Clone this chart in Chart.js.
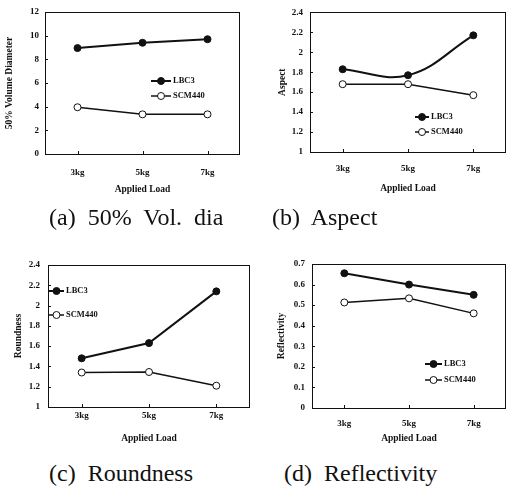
<!DOCTYPE html>
<html>
<head>
<meta charset="utf-8">
<script src="https://cdn.jsdelivr.net/npm/chart.js@4/dist/chart.umd.min.js"></script>
<style>
  html, body { margin: 0; padding: 0; background: #fff; }
  #page { position: relative; width: 511px; height: 486px; overflow: hidden; background: #fff; }
  canvas { position: absolute; }
  .cap { position: absolute; font-family: "Liberation Serif", "Times New Roman", serif; font-size: 24px; color: #111; white-space: pre; line-height: 28px; }
</style>
</head>
<body>
<div id="page">
  <canvas id="chartA" width="255" height="205" style="left:0px;top:0px;width:255px;height:205px"></canvas>
  <canvas id="chartB" width="256" height="205" style="left:255px;top:0px;width:256px;height:205px"></canvas>
  <canvas id="chartC" width="255" height="210" style="left:0px;top:240px;width:255px;height:210px"></canvas>
  <canvas id="chartD" width="256" height="210" style="left:255px;top:240px;width:256px;height:210px"></canvas>
  <div class="cap" style="left:49px;top:203px">(a)  50%  Vol.  dia</div>
  <div class="cap" style="left:272px;top:203px">(b)  Aspect</div>
  <div class="cap" style="left:49px;top:459px">(c)  Roundness</div>
  <div class="cap" style="left:284px;top:459px">(d)  Reflectivity</div>
</div>
<script>
// categories (applied load)
const loads = ["3kg", "5kg", "7kg"];
const seriesNames = ["LBC3", "SCM440"];

// (a) 50% volume diameter
const diaLBC3 = [8.95, 9.4, 9.7];
const diaSCM440 = [3.95, 3.35, 3.35];

// (b) aspect
const aspectLBC3 = [1.83, 1.77, 2.17];
const aspectSCM440 = [1.68, 1.68, 1.57];

// (c) roundness
const roundLBC3 = [1.48, 1.63, 2.14];
const roundSCM440 = [1.34, 1.345, 1.21];

// (d) reflectivity
const reflLBC3 = [0.655, 0.60, 0.55];
const reflSCM440 = [0.513, 0.533, 0.46];

const serif = '"Liberation Serif", "Times New Roman", serif';

// box around the plot area with small inward ticks
const framePlugin = {
    id: "frame",
    beforeDatasetsDraw(chart) {
        const {ctx, chartArea: a, scales} = chart;
        ctx.save();
        ctx.strokeStyle = "#111";
        ctx.lineWidth = 1;
        ctx.strokeRect(Math.round(a.left) + 0.5, Math.round(a.top) + 0.5,
            Math.round(a.right - a.left) - 1, Math.round(a.bottom - a.top));
        ctx.beginPath();
        scales.y.ticks.forEach(t => {
            const y = Math.round(scales.y.getPixelForValue(t.value)) + 0.5;
            ctx.moveTo(a.left, y);
            ctx.lineTo(a.left + 3, y);
        });
        loads.forEach((l, i) => {
            const x = Math.round(scales.x.getPixelForValue(i)) + 0.5;
            ctx.moveTo(x, a.bottom);
            ctx.lineTo(x, a.bottom - 3);
        });
        ctx.stroke();
        ctx.restore();
    }
};

// legend drawn inside the plot area
const innerLegend = {
    id: "innerLegend",
    afterDatasetsDraw(chart, args, opts) {
        const ctx = chart.ctx;
        ctx.save();
        ctx.font = "bold 8.5px " + serif;
        ctx.textBaseline = "middle";
        chart.data.datasets.forEach((ds, i) => {
            const y = opts.y + i * opts.rowGap;
            ctx.strokeStyle = ds.borderColor;
            ctx.lineWidth = ds.borderWidth;
            ctx.beginPath();
            ctx.moveTo(opts.x, y);
            ctx.lineTo(opts.x + opts.len, y);
            ctx.stroke();
            ctx.beginPath();
            ctx.arc(opts.x + opts.len / 2, y, ds.pointRadius, 0, Math.PI * 2);
            ctx.fillStyle = ds.pointBackgroundColor;
            ctx.fill();
            ctx.lineWidth = ds.pointBorderWidth;
            ctx.strokeStyle = ds.pointBorderColor;
            ctx.stroke();
            ctx.fillStyle = "#111";
            ctx.fillText(ds.label, opts.x + opts.len + 2, y);
        });
        ctx.restore();
    }
};

function makePanel(id, p) {
    const ctx = document.getElementById(id).getContext("2d");
    return new Chart(ctx, {
        type: "line",
        data: {
            labels: loads,
            datasets: [{
                label: seriesNames[0],
                data: p.lbc,
                borderColor: "#111",
                borderWidth: 2,
                pointRadius: 3.5,
                pointBackgroundColor: "#111",
                pointBorderColor: "#111",
                pointBorderWidth: 1,
                tension: p.tension || 0
            }, {
                label: seriesNames[1],
                data: p.scm,
                borderColor: "#111",
                borderWidth: 1.5,
                pointRadius: 3.5,
                pointBackgroundColor: "#fff",
                pointBorderColor: "#111",
                pointBorderWidth: 1,
                tension: 0
            }]
        },
        options: {
            responsive: false,
            animation: false,
            devicePixelRatio: 1,
            layout: { padding: { left: 0, top: p.top, right: p.right, bottom: 0 } },
            plugins: {
                legend: { display: false },
                tooltip: { enabled: false },
                innerLegend: p.legend
            },
            scales: {
                x: {
                    type: "category",
                    offset: true,
                    grid: { display: false, drawTicks: false },
                    border: { display: false },
                    ticks: { color: "#111", padding: p.xTickPad, font: { family: serif, size: 9, weight: "bold" } },
                    title: { display: true, text: "Applied Load", color: "#111", padding: { top: 0, bottom: p.xTitlePad },
                        font: { family: serif, size: 9.5, weight: "bold" } },
                    afterFit: s => { s.height = p.xHeight; }
                },
                y: {
                    min: p.min,
                    max: p.max,
                    grid: { display: false, drawTicks: false },
                    border: { display: false },
                    ticks: {
                        stepSize: p.step,
                        color: "#111",
                        padding: p.yTickPad,
                        font: { family: serif, size: 9, weight: "bold" },
                        callback: v => String(+v.toFixed(2))
                    },
                    title: { display: true, text: p.yTitle, color: "#111", padding: { top: p.yTitlePad, bottom: 0 },
                        font: { family: serif, size: 9.5, weight: "bold" } },
                    afterFit: s => { s.width = p.yWidth; }
                }
            }
        },
        plugins: [framePlugin, innerLegend]
    });
}

makePanel("chartA", {
    lbc: diaLBC3, scm: diaSCM440, min: 0, max: 12, step: 2, yTitle: "50% Volume Diameter",
    top: 12, right: 15, yWidth: 45, xHeight: 51, xTickPad: 13, xTitlePad: 10, yTickPad: 6, yTitlePad: 4,
    legend: { x: 151, y: 81, len: 20, rowGap: 15 }
});
makePanel("chartB", {
    lbc: aspectLBC3, scm: aspectSCM440, min: 1, max: 2.4, step: 0.2, yTitle: "Aspect", tension: 0.4,
    top: 12, right: 1, yWidth: 55, xHeight: 53, xTickPad: 11, xTitlePad: 11, yTickPad: 7, yTitlePad: 22,
    legend: { x: 160, y: 117, len: 14, rowGap: 15 }
});
makePanel("chartC", {
    lbc: roundLBC3, scm: roundSCM440, min: 1, max: 2.4, step: 0.2, yTitle: "Roundness",
    top: 25, right: 5, yWidth: 48, xHeight: 43, xTickPad: 3, xTitlePad: 6, yTickPad: 8, yTitlePad: 13,
    legend: { x: 49, y: 51, len: 15, rowGap: 24 }
});
makePanel("chartD", {
    lbc: reflLBC3, scm: reflSCM440, min: 0, max: 0.7, step: 0.1, yTitle: "Reflectivity",
    top: 24, right: 1, yWidth: 57, xHeight: 42, xTickPad: 10, xTitlePad: 6, yTickPad: 7, yTitlePad: 21,
    legend: { x: 170, y: 124, len: 17, rowGap: 16 }
});
</script>
</body>
</html>
